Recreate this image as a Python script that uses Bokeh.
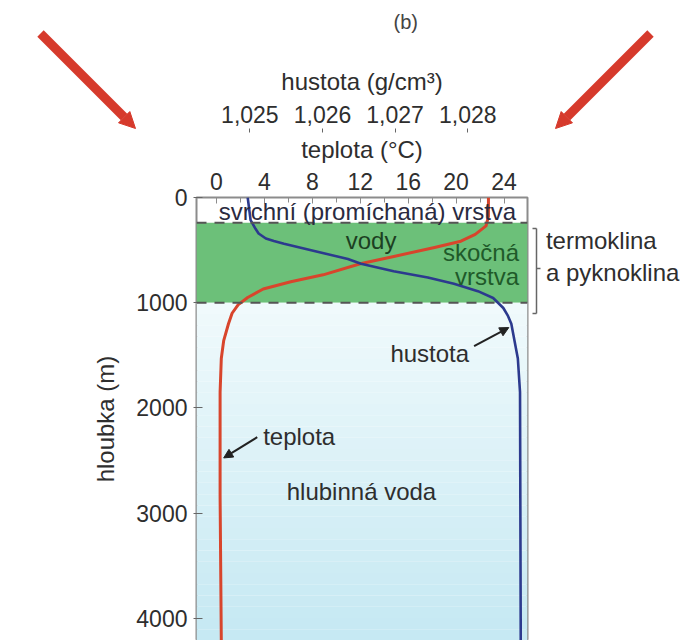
from bokeh.plotting import figure
from bokeh.layouts import column
from bokeh.models import (Range1d, LinearAxis, FixedTicker, SingleIntervalTicker,
                          CustomJSTickFormatter, Label, Arrow, NormalHead,
                          BoxAnnotation, Span)
from bokeh.embed import file_html
from bokeh.resources import INLINE
import numpy as np

# ---- data ----
temp_depth = [0, 180, 270, 350, 415, 475, 560, 630, 735, 800, 870, 950, 1020, 1100,
              1200, 1360, 1530, 1850, 2840, 4210]
temp_c = [22.7, 22.7, 22.5, 21.6, 20.4, 18.2, 14.8, 12.0, 8.9, 6.2, 3.9, 2.6, 1.8, 1.3,
          1.0, 0.6, 0.4, 0.3, 0.3, 0.4]

dens_depth = [0, 215, 300, 342, 390, 414, 440, 515, 585, 630, 700, 760, 820, 890, 955,
              1050, 1120, 1200, 1530, 1850, 4210]
dens_g = [1.02497, 1.02501, 1.02508, 1.02512, 1.02522, 1.02533, 1.02547, 1.02593,
          1.02635, 1.02653, 1.02698, 1.02745, 1.02781, 1.02814, 1.02835, 1.02849,
          1.02855, 1.02860, 1.02869, 1.02872, 1.02873]

layer_bounds = [240, 1000]          # thermocline top / bottom (m)
depth_ticks = [0, 1000, 2000, 3000, 4000]
dens_ticks = [1.025, 1.026, 1.027, 1.028]
max_depth = 4210

FONT = "Liberation Sans"
TXT = "#2e2e2e"
RED = "#d8452c"
BLUE = "#2c3a8e"
GREEN = "#6cc079"

p = figure(width=698, height=640, output_backend="svg", toolbar_location=None,
           x_axis_location="above",
           x_range=Range1d(-1.67, 25.96), y_range=Range1d(max_depth, 0),
           min_border_left=196, min_border_right=171, min_border_top=197,
           min_border_bottom=0)
p.extra_x_ranges = {"dens": Range1d(1.024265, 1.028823)}
p.grid.visible = False
p.background_fill_color = "white"
p.border_fill_color = "white"
p.outline_line_color = "#8c8c8c"
p.outline_line_width = 2

# background layers
p.add_layout(BoxAnnotation(top=layer_bounds[0], bottom=layer_bounds[1],
                           fill_color=GREEN, fill_alpha=1, line_color=None,
                           level="underlay"))
edges = np.linspace(layer_bounds[1], max_depth, 31)
c0 = np.array([240, 250, 252])
c1 = np.array([198, 233, 243])
for i in range(30):
    f = i / 29
    c = (c0 * (1 - f) + c1 * f).astype(int)
    p.add_layout(BoxAnnotation(top=edges[i], bottom=edges[i + 1],
                               fill_color="#%02x%02x%02x" % tuple(c), fill_alpha=1,
                               line_color=None, level="underlay"))
for b in layer_bounds:
    p.add_layout(Span(location=b, dimension="width", line_color="#555555",
                      line_width=2, line_dash="10 8"))

# curves
p.line(temp_c, temp_depth, line_color=RED, line_width=3, line_join="round")
p.line(dens_g, dens_depth, line_color=BLUE, line_width=2.6, line_join="round",
       x_range_name="dens")

# temperature axis (primary, above)
ax_t = p.xaxis[0]
ax_t.ticker = SingleIntervalTicker(interval=4, num_minor_ticks=2)
ax_t.axis_label = "teplota (°C)"
ax_t.axis_line_color = None
ax_t.major_tick_in = 6
ax_t.major_tick_out = 0
ax_t.minor_tick_in = 5
ax_t.minor_tick_out = 0
ax_t.major_tick_line_color = "#8c8c8c"
ax_t.minor_tick_line_color = "#8c8c8c"
ax_t.major_label_standoff = 8
ax_t.axis_label_standoff = 7

# density axis
ax_d = LinearAxis(x_range_name="dens", ticker=FixedTicker(ticks=dens_ticks),
                  formatter=CustomJSTickFormatter(code="return tick.toFixed(3).replace('.', ',');"),
                  axis_label="hustota (g/cm³)")
ax_d.axis_line_color = None
ax_d.major_tick_out = 4
ax_d.major_tick_in = 0
ax_d.minor_tick_line_color = None
ax_d.major_tick_line_color = "#666666"
ax_d.major_label_standoff = 6
ax_d.axis_label_standoff = 8
p.add_layout(ax_d, "above")

# depth axis
ax_y = p.yaxis[0]
ax_y.ticker = FixedTicker(ticks=depth_ticks)
ax_y.axis_label = "hloubka (m)"
ax_y.axis_line_color = None
ax_y.major_tick_in = 6
ax_y.major_tick_out = 3
ax_y.minor_tick_line_color = None
ax_y.major_tick_line_color = "#666666"
ax_y.major_label_standoff = 6
ax_y.axis_label_standoff = 14

for ax in (ax_t, ax_d, ax_y):
    ax.major_label_text_font = FONT
    ax.major_label_text_font_size = "23px"
    ax.major_label_text_color = TXT
    ax.axis_label_text_font = FONT
    ax.axis_label_text_font_size = "24px"
    ax.axis_label_text_font_style = "normal"
    ax.axis_label_text_color = TXT


def lab(x, y, t, size="24px", color=TXT, align="center", where="center"):
    lbl = Label(x=x, y=y, text=t, text_font=FONT, text_font_size=size,
                text_color=color, text_align=align, text_baseline="middle")
    p.add_layout(lbl, where)


lab(12.6, 133, "svrchní (promíchaná) vrstva", color="#2a2a40")
lab(12.9, 409, "vody", color="#1c3f22")
lab(25.25, 522, "skočná", color="#1f5a2a", align="right")
lab(25.25, 750, "vrstva", color="#1f5a2a", align="right")
lab(17.8, 1480, "hustota")
lab(6.9, 2268, "teplota")
lab(12.1, 2790, "hlubinná voda")
lab(27.5, 560, "termoklina\na pyknoklina", align="left", where="right")
lab(15.8, -1672, "(b)", size="20px", color="#444444", where="above")

# pointer arrows
p.add_layout(Arrow(x_start=21.5, y_start=1413, x_end=24.4, y_end=1236,
                   line_color="#222222", line_width=2,
                   end=NormalHead(size=9, fill_color="#222222", line_color="#222222")))
p.add_layout(Arrow(x_start=3.4, y_start=2278, x_end=0.6, y_end=2475,
                   line_color="#222222", line_width=2,
                   end=NormalHead(size=9, fill_color="#222222", line_color="#222222")))

# ---- decorative overlay (page pixels) ----
ov = figure(width=698, height=640, output_backend="svg", toolbar_location=None,
            x_range=Range1d(0, 698), y_range=Range1d(640, 0),
            x_axis_type=None, y_axis_type=None, min_border=0,
            min_border_left=0, min_border_right=0, min_border_top=0,
            min_border_bottom=0,
            styles={"position": "absolute", "left": "0px", "top": "0px",
                    "pointer-events": "none"})
ov.grid.visible = False
ov.outline_line_color = None
ov.background_fill_alpha = 0
ov.border_fill_alpha = 0
for fig in (p, ov):
    try:
        fig.frame_align = False
    except Exception:
        pass

# bracket
BR = "#666666"
for xs, ys, xe, ye in ((536, 228, 536, 313), (532, 228, 536, 228),
                       (532, 313, 536, 313), (536, 268, 540, 268)):
    ov.add_layout(Arrow(x_start=xs, y_start=ys, x_end=xe, y_end=ye,
                        line_color=BR, line_width=1.5, end=None))

# big red arrows
for xs, xe in ((40, 135), (650, 555)):
    ov.add_layout(Arrow(x_start=xs, y_start=33, x_end=xe, y_end=128,
                        line_color="#d63a2c", line_width=9,
                        end=NormalHead(size=16, fill_color="#d63a2c", line_color="#d63a2c")))

root = column(p, ov, styles={"position": "relative"})
open("out.html", "w").write(file_html(root, INLINE))
